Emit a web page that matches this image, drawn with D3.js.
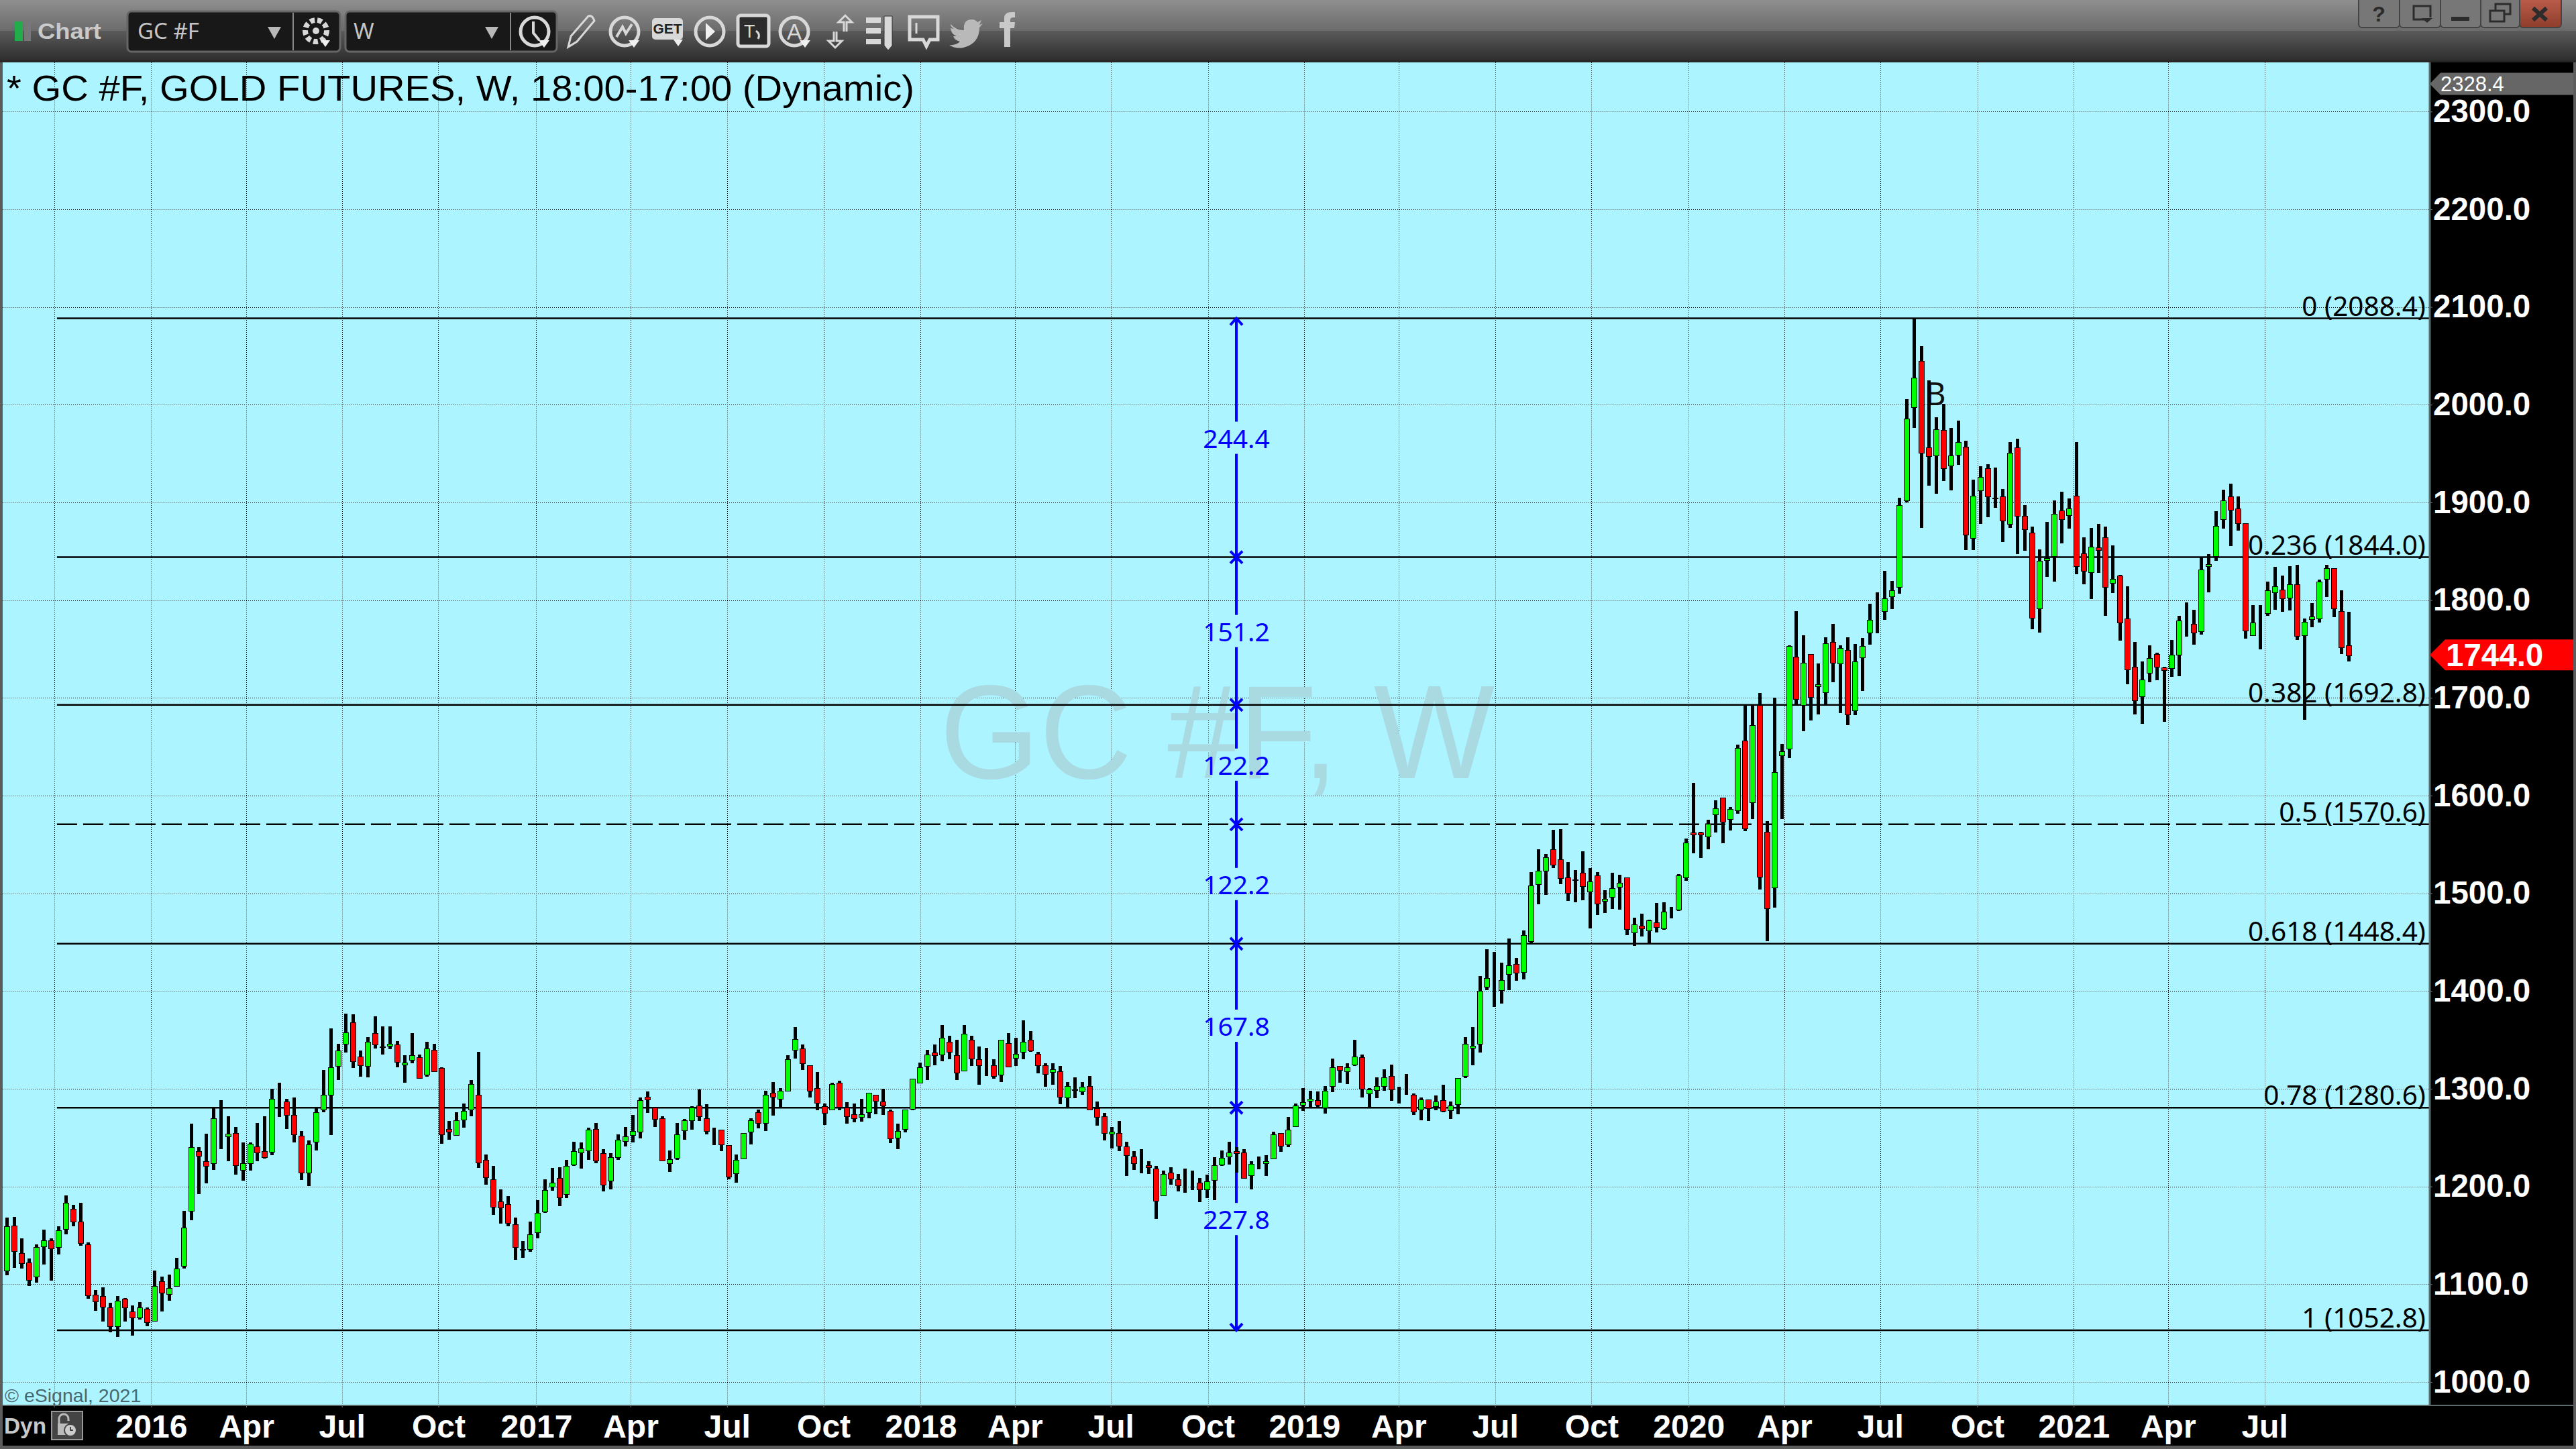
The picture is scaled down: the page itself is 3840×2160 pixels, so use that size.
<!DOCTYPE html>
<html>
<head>
<meta charset="utf-8">
<title>GC #F weekly</title>
<script src="https://cdnjs.cloudflare.com/ajax/libs/d3/7.8.5/d3.min.js"></script>
<style>
  html, body { margin: 0; padding: 0; background: #000; }
  svg { display: block; }
</style>
</head>
<body>
<svg id="chart" width="3840" height="2160"></svg>
<script>
// weekly candles
const opens = [
  1114,1160,1132,1122,1108,1139,1145,1138,1156,1177,1164,1141,1089,1088,1076,1057,1085,1072,1066,1075,
  1062,1103,1090,1098,1119,1175,1236,1226,1224,1260,1251,1255,1217,1224,1241,1236,1236,1294,1287,1273,
  1252,1214,1246,1279,1294,1323,1346,1368,1333,1323,1357,1342,1344,1345,1325,1329,1332,1314,1340,1321,
  1259,1253,1268,1279,1294,1227,1207,1185,1182,1161,1136,1136,1153,1174,1200,1209,1192,1222,1235,1237,
  1259,1234,1206,1230,1246,1253,1256,1292,1281,1270,1224,1229,1258,1268,1283,1270,1256,1258,1242,1213,
  1229,1256,1276,1265,1296,1290,1298,1340,1341,1324,1301,1282,1279,1306,1281,1274,1271,1276,1294,1287,
  1277,1250,1259,1279,1306,1323,1337,1335,1348,1334,1318,1350,1330,1324,1324,1314,1347,1332,1338,1350,
  1336,1324,1317,1318,1291,1298,1297,1303,1280,1272,1254,1255,1241,1231,1223,1222,1218,1191,1214,1207,
  1201,1201,1204,1197,1207,1222,1231,1236,1235,1211,1223,1224,1228,1255,1243,1262,1283,1288,1288,1281,
  1303,1323,1318,1325,1332,1295,1299,1303,1313,1297,1295,1294,1279,1289,1282,1288,1278,1284,1313,1342,
  1346,1404,1401,1401,1417,1428,1419,1451,1509,1523,1545,1535,1516,1513,1521,1502,1518,1492,1496,1507,
  1516,1460,1467,1462,1470,1464,1480,1483,1516,1562,1562,1558,1581,1598,1576,1585,1656,1593,1693,1563,
  1506,1641,1648,1742,1693,1745,1712,1706,1757,1735,1749,1687,1741,1767,1790,1789,1804,1813,1902,1998,
  2045,1956,1948,1974,1938,1949,1957,1864,1912,1935,1904,1906,1878,1956,1886,1869,1791,1841,1845,1892,
  1887,1907,1848,1829,1854,1864,1818,1825,1781,1732,1702,1726,1745,1731,1730,1744,1777,1776,1768,1835,
  1845,1883,1906,1894,1879,1764,1782,1787,1808,1811,1802,1816,1764,1780,1781,1822,1833,1789,1754
];
const highs = [
  1168,1169,1147,1126,1141,1156,1147,1159,1191,1181,1183,1143,1094,1097,1081,1088,1086,1078,1082,1076,
  1114,1108,1110,1127,1175,1264,1240,1254,1280,1288,1272,1261,1245,1245,1265,1272,1300,1306,1290,1291,
  1257,1247,1280,1319,1362,1346,1377,1376,1339,1353,1374,1364,1364,1349,1334,1357,1335,1348,1346,1322,
  1267,1276,1285,1309,1338,1233,1221,1197,1190,1168,1144,1164,1186,1207,1219,1220,1227,1246,1245,1260,
  1265,1238,1234,1253,1261,1273,1291,1297,1281,1272,1237,1265,1269,1282,1299,1284,1260,1258,1242,1233,
  1255,1270,1279,1298,1307,1301,1334,1363,1345,1324,1317,1285,1306,1308,1286,1285,1290,1296,1294,1300,
  1279,1264,1279,1310,1327,1340,1345,1365,1354,1350,1365,1354,1343,1342,1330,1350,1357,1352,1370,1359,
  1338,1326,1326,1323,1307,1312,1307,1313,1287,1275,1261,1267,1246,1236,1238,1226,1221,1216,1220,1213,
  1218,1216,1209,1212,1230,1237,1246,1240,1238,1226,1231,1232,1256,1255,1271,1285,1301,1298,1297,1303,
  1331,1323,1326,1350,1335,1301,1312,1320,1325,1302,1315,1295,1291,1289,1293,1304,1287,1311,1353,1363,
  1415,1443,1440,1429,1454,1434,1462,1522,1545,1540,1565,1566,1532,1524,1543,1526,1522,1503,1521,1519,
  1516,1475,1479,1473,1490,1491,1486,1520,1556,1613,1563,1575,1595,1598,1588,1652,1693,1693,1705,1574,
  1700,1653,1754,1789,1764,1745,1735,1762,1776,1754,1762,1755,1761,1796,1808,1830,1820,1905,2006,2088,
  2060,2025,1987,2001,1976,1984,1963,1923,1937,1939,1936,1914,1962,1965,1897,1875,1852,1880,1902,1911,
  1904,1962,1864,1874,1878,1875,1856,1826,1814,1757,1737,1754,1746,1732,1759,1784,1798,1790,1844,1847,
  1891,1913,1919,1906,1879,1795,1795,1819,1834,1825,1835,1836,1781,1797,1821,1836,1833,1810,1788
];
const lows = [
  1109,1117,1116,1098,1102,1120,1104,1130,1151,1159,1139,1085,1073,1062,1051,1046,1062,1047,1064,1057,
  1062,1072,1083,1098,1116,1165,1192,1203,1217,1238,1226,1212,1206,1216,1226,1229,1232,1271,1259,1245,
  1207,1200,1237,1276,1253,1309,1337,1321,1312,1312,1341,1335,1341,1322,1306,1326,1311,1312,1317,1244,
  1248,1252,1260,1272,1219,1202,1171,1162,1159,1125,1127,1133,1147,1173,1196,1180,1188,1221,1218,1227,
  1224,1195,1197,1227,1241,1245,1249,1275,1261,1226,1215,1227,1248,1258,1267,1253,1242,1236,1207,1204,
  1228,1243,1260,1257,1273,1281,1298,1331,1319,1291,1278,1263,1279,1278,1264,1266,1267,1270,1274,1273,
  1245,1238,1256,1278,1306,1309,1324,1328,1330,1309,1318,1323,1304,1313,1310,1307,1322,1323,1330,1338,
  1316,1302,1304,1284,1281,1291,1294,1279,1262,1247,1239,1236,1211,1217,1213,1213,1167,1191,1202,1195,
  1193,1196,1184,1188,1186,1221,1223,1214,1208,1197,1218,1211,1228,1236,1240,1261,1278,1281,1281,1275,
  1297,1306,1305,1323,1291,1281,1291,1298,1288,1285,1294,1273,1268,1267,1278,1276,1269,1274,1311,1324,
  1337,1401,1384,1387,1401,1411,1412,1449,1489,1498,1526,1510,1492,1491,1493,1464,1478,1480,1484,1483,
  1457,1446,1456,1448,1460,1463,1474,1482,1513,1541,1536,1545,1562,1551,1564,1581,1564,1576,1504,1451,
  1485,1576,1639,1692,1666,1677,1683,1693,1716,1685,1672,1682,1707,1754,1766,1780,1791,1807,1900,1976,
  1874,1917,1909,1922,1912,1939,1851,1851,1878,1885,1895,1860,1874,1847,1850,1770,1767,1824,1819,1858,
  1873,1827,1816,1801,1828,1784,1807,1759,1714,1683,1673,1716,1718,1676,1721,1722,1763,1754,1765,1808,
  1840,1873,1855,1871,1761,1764,1750,1784,1790,1788,1790,1759,1677,1772,1777,1803,1783,1745,1737
];
const closes = [
  1159,1134,1122,1104,1138,1145,1137,1155,1183,1164,1142,1089,1082,1077,1057,1083,1076,1066,1076,1061,
  1098,1091,1096,1116,1158,1240,1231,1221,1270,1260,1254,1222,1224,1244,1235,1230,1290,1294,1273,1253,
  1214,1243,1276,1294,1322,1339,1358,1328,1324,1348,1345,1343,1346,1327,1327,1334,1311,1341,1318,1253,
  1256,1268,1277,1305,1225,1209,1179,1179,1163,1138,1135,1151,1173,1196,1204,1189,1221,1236,1239,1258,
  1227,1202,1230,1248,1251,1257,1288,1289,1269,1227,1228,1253,1268,1281,1272,1257,1256,1243,1210,1227,
  1255,1268,1265,1294,1292,1298,1330,1351,1326,1298,1286,1275,1305,1281,1272,1270,1274,1296,1288,1283,
  1249,1257,1279,1310,1322,1335,1334,1352,1338,1316,1356,1331,1324,1324,1313,1350,1323,1336,1348,1339,
  1324,1315,1320,1292,1303,1299,1302,1279,1271,1255,1256,1242,1232,1224,1223,1220,1185,1213,1208,1201,
  1201,1201,1197,1205,1222,1229,1235,1234,1209,1223,1223,1226,1253,1242,1258,1283,1286,1290,1283,1298,
  1322,1319,1322,1333,1300,1299,1303,1312,1299,1297,1295,1277,1289,1280,1287,1277,1283,1311,1346,1344,
  1400,1413,1401,1411,1426,1419,1457,1508,1523,1537,1529,1516,1500,1514,1507,1512,1489,1494,1505,1511,
  1463,1468,1464,1472,1465,1481,1480,1518,1552,1560,1560,1571,1587,1573,1586,1649,1566,1672,1517,1485,
  1624,1645,1753,1699,1736,1701,1714,1756,1736,1751,1683,1737,1753,1780,1790,1802,1810,1897,1986,2028,
  1951,1947,1975,1935,1948,1962,1867,1907,1926,1906,1905,1881,1951,1886,1872,1782,1840,1843,1888,1883,
  1894,1835,1830,1855,1851,1813,1822,1777,1729,1698,1719,1741,1732,1728,1744,1779,1777,1767,1831,1837,
  1876,1902,1892,1879,1769,1777,1782,1810,1814,1802,1816,1763,1778,1783,1819,1833,1792,1752,1744
];

// time axis: week number of each label
const tickWeeks = [6.4,19.6,32.5,45.5,58.6,71.9,84.7,97.8,110.9,124.1,136.9,149.9,163.1,176.2,189,202.1,215.2,228.4,241.4,254.4,267.6,280.7,293.5,306.6];
const tickLabels = ["","2016","Apr","Jul","Oct","2017","Apr","Jul","Oct","2018","Apr","Jul","Oct","2019","Apr","Jul","Oct","2020","Apr","Jul","Oct","2021","Apr","Jul"];
const priceTicks = [1000,1100,1200,1300,1400,1500,1600,1700,1800,1900,2000,2100,2200,2300];

// fibonacci study
const fibRatios = ["0","0.236","0.382","0.5","0.618","0.78","1"];
const fibPrices = [2088.4,1844.0,1692.8,1570.6,1448.4,1280.6,1052.8];
const fibGaps = ["244.4","151.2","122.2","122.2","167.8","227.8"];
const fibStartWeek = 6.8;
const fibRulerWeek = 167;

const lastPrice = 1744.0;
const scaleTop = 2328.4;

const bg = "#acf4ff";
const upColor = "#00ff00";
const downColor = "#ff0000";
const arial = "'Liberation Sans', Arial, sans-serif";
const tahoma = "'Noto Sans', sans-serif";

const plotLeft = 4, plotRight = 3621, plotTop = 93, plotBottom = 2095, panelRight = 3836;

const svg = d3.select("#chart");
const x = d3.scaleLinear().domain([0, 318]).range([10.3, 3500.7]);
const y = d3.scaleLinear().domain([1000, 2300]).range([2060, 166.3]);

drawChrome(svg);
drawPlot(svg);
drawAxes(svg);
drawToolbar(svg);

function drawChrome(svg) {
    let defs = svg.append("defs");
    let g1 = defs.append("linearGradient").attr("id", "barTop").attr("x2", 0).attr("y2", 1);
    g1.append("stop").attr("offset", 0).attr("stop-color", "#8f8f8f");
    g1.append("stop").attr("offset", 1).attr("stop-color", "#6b6b6b");
    let g2 = defs.append("linearGradient").attr("id", "barLow").attr("x2", 0).attr("y2", 1);
    g2.append("stop").attr("offset", 0).attr("stop-color", "#5a5a5a");
    g2.append("stop").attr("offset", 1).attr("stop-color", "#2e2e2e");
    let g3 = defs.append("linearGradient").attr("id", "closeBtn").attr("x2", 0).attr("y2", 1);
    g3.append("stop").attr("offset", 0).attr("stop-color", "#c0604e");
    g3.append("stop").attr("offset", 1).attr("stop-color", "#8e3d2c");

    svg.append("rect").attr("width", 3840).attr("height", 2160).attr("fill", "#5c5c5c");
    svg.append("rect").attr("width", 3840).attr("height", 46).attr("fill", "url(#barTop)");
    svg.append("rect").attr("y", 46).attr("width", 3840).attr("height", 44).attr("fill", "url(#barLow)");
    svg.append("rect").attr("y", 90).attr("width", 3840).attr("height", 3).attr("fill", "#262626");
    svg.append("rect").attr("x", plotLeft).attr("y", plotTop)
        .attr("width", plotRight - plotLeft).attr("height", plotBottom - plotTop).attr("fill", bg);
    svg.append("rect").attr("x", plotRight).attr("y", plotTop)
        .attr("width", panelRight - plotRight).attr("height", plotBottom - plotTop).attr("fill", "#000");
    svg.append("rect").attr("x", plotLeft).attr("y", plotBottom)
        .attr("width", panelRight - plotLeft).attr("height", 60).attr("fill", "#000");
}

function drawPlot(svg) {
    // grid
    let grid = svg.append("g").attr("stroke", "#000").attr("stroke-width", 1)
        .attr("stroke-dasharray", "1,2").attr("shape-rendering", "crispEdges");
    grid.selectAll(".gy").data(priceTicks).enter().append("line")
        .attr("x1", plotLeft).attr("x2", plotRight)
        .attr("y1", d => Math.round(y(d)) + 0.5).attr("y2", d => Math.round(y(d)) + 0.5);
    grid.selectAll(".gx").data(tickWeeks).enter().append("line")
        .attr("y1", plotTop).attr("y2", plotBottom)
        .attr("x1", d => Math.round(x(d)) + 0.5).attr("x2", d => Math.round(x(d)) + 0.5);

    // watermark
    svg.append("text").attr("x", 1401).attr("y", 1160)
        .attr("textLength", 827).attr("lengthAdjust", "spacingAndGlyphs")
        .style("font-family", arial).style("font-size", "198px").style("fill", "#a9d9e1")
        .text("GC #F, W");

    // copyright
    svg.append("text").attr("x", 7).attr("y", 2090)
        .style("font-family", arial).style("font-size", "28.5px").style("fill", "#47686e")
        .text("\u00a9 eSignal, 2021");

    svg.append("text").attr("x", 10).attr("y", 150)
        .attr("textLength", 1353).attr("lengthAdjust", "spacingAndGlyphs")
        .style("font-family", arial).style("font-size", "53px").style("fill", "#000")
        .text("* GC #F, GOLD FUTURES, W, 18:00-17:00 (Dynamic)");

    drawFib(svg);

    svg.append("text").attr("x", 2870).attr("y", 604)
        .style("font-family", tahoma).style("font-size", "47px").style("fill", "#111")
        .text("B");

    drawCandles(svg);
}

function drawFib(svg) {
    let left = x(fibStartWeek);
    let rx = Math.round(x(fibRulerWeek));

    // horizontal levels, 0.5 is dashed
    svg.selectAll(".fib").data(fibPrices).enter().append("line")
        .attr("x1", left).attr("x2", plotRight)
        .attr("y1", d => y(d)).attr("y2", d => y(d))
        .attr("stroke", "#000").attr("stroke-width", 2.5)
        .attr("stroke-dasharray", (d, i) => fibRatios[i] === "0.5" ? "30,9" : null);

    svg.selectAll(".fibLabel").data(fibPrices).enter().append("text")
        .attr("x", 3616).attr("y", d => y(d) - 4)
        .attr("text-anchor", "end")
        .style("font-family", tahoma).style("font-size", "40.5px").style("fill", "#000")
        .text((d, i) => fibRatios[i] + " (" + d.toFixed(1) + ")");

    // blue ruler, broken around its labels
    let blue = svg.append("g").attr("stroke", "#0000ff").attr("stroke-width", 4).attr("fill", "none");
    fibGaps.forEach(function (label, i) {
        let y1 = y(fibPrices[i]);
        let y2 = y(fibPrices[i + 1]);
        let mid = y((fibPrices[i] + fibPrices[i + 1]) / 2);
        blue.append("line").attr("x1", rx).attr("x2", rx).attr("y1", y1).attr("y2", mid - 24);
        blue.append("line").attr("x1", rx).attr("x2", rx).attr("y1", mid + 24).attr("y2", y2);
        svg.append("text").attr("x", rx).attr("y", mid + 15)
            .attr("text-anchor", "middle")
            .style("font-family", tahoma).style("font-size", "39px").style("fill", "#0000ff")
            .text(label);
    });
    // crosses on inner levels, arrows on both ends
    fibPrices.forEach(function (p, i) {
        let py = y(p);
        if (i === 0) {
            blue.append("path").attr("d", `M${rx - 9},${py + 10}L${rx},${py}L${rx + 9},${py + 10}`);
        } else if (i === fibPrices.length - 1) {
            blue.append("path").attr("d", `M${rx - 9},${py - 10}L${rx},${py}L${rx + 9},${py - 10}`);
        } else {
            blue.append("path").attr("d", `M${rx - 9},${py - 9}L${rx + 9},${py + 9}M${rx - 9},${py + 9}L${rx + 9},${py - 9}`);
        }
    });
}

function drawCandles(svg) {
    let g = svg.append("g").attr("shape-rendering", "crispEdges");
    let weeks = d3.range(opens.length);
    g.selectAll(".wick").data(weeks).enter().append("rect")
        .attr("x", i => Math.round(x(i)) - 2)
        .attr("width", 5)
        .attr("y", i => Math.round(y(highs[i])))
        .attr("height", i => Math.round(y(lows[i]) - y(highs[i])))
        .attr("fill", "#000");
    g.selectAll(".body").data(weeks).enter().append("rect")
        .attr("x", i => Math.round(x(i)) - 3.5)
        .attr("width", 8)
        .attr("y", i => Math.round(y(Math.max(opens[i], closes[i]))) + 0.5)
        .attr("height", i => Math.round(Math.abs(y(opens[i]) - y(closes[i]))))
        .attr("fill", i => closes[i] >= opens[i] ? upColor : downColor)
        .attr("stroke", "#000")
        .attr("stroke-width", 1);
}

function drawAxes(svg) {
    // price axis
    let yAxis = svg.append("g").attr("transform", "translate(" + plotRight + ",0)")
        .call(d3.axisRight(y).tickValues(priceTicks).tickSize(5).tickPadding(1).tickFormat(d => d.toFixed(1)));
    yAxis.select(".domain").remove();
    yAxis.selectAll("line").attr("stroke", "#777");
    yAxis.selectAll("text")
        .style("font-family", arial).style("font-size", "47.5px").style("font-weight", "bold").style("fill", "#fff");

    // time axis
    let xAxis = svg.append("g").attr("transform", "translate(0," + plotBottom + ")")
        .call(d3.axisBottom(x).tickValues(tickWeeks).tickSize(3).tickPadding(11)
            .tickFormat((d, i) => tickLabels[i]));
    xAxis.select(".domain").remove();
    xAxis.selectAll("line").attr("stroke", "#777");
    xAxis.selectAll("text")
        .style("font-family", arial).style("font-size", "48px").style("font-weight", "bold").style("fill", "#fff");

    svg.append("line").attr("x1", plotRight + 1).attr("x2", plotRight + 1)
        .attr("y1", plotTop).attr("y2", plotBottom)
        .attr("stroke", "#5c6a6c").attr("stroke-width", 3);
    svg.append("line").attr("x1", plotLeft).attr("x2", panelRight)
        .attr("y1", plotBottom).attr("y2", plotBottom)
        .attr("stroke", "#5c6a6c").attr("stroke-width", 2);

    // price flags
    priceFlag(svg, y(scaleTop), 33, 16, "#666", scaleTop.toFixed(1), "31px", "normal", 3638);
    priceFlag(svg, y(lastPrice), 46, 23, downColor, lastPrice.toFixed(1), "47.5px", "bold", 3646);

    // Dyn + lock button
    svg.append("text").attr("x", 6).attr("y", 2137)
        .attr("textLength", 63).attr("lengthAdjust", "spacingAndGlyphs")
        .style("font-family", arial).style("font-size", "34px").style("font-weight", "bold").style("fill", "#c8c8c8")
        .text("Dyn");
    svg.append("rect").attr("x", 77).attr("y", 2104).attr("width", 46).attr("height", 42)
        .attr("fill", "#444").attr("stroke", "#999").attr("stroke-width", 2);
    svg.append("path").attr("d", "M88,2122v-7a7,7 0 0 1 14,0v3").attr("fill", "none")
        .attr("stroke", "#bbb").attr("stroke-width", 3);
    svg.append("rect").attr("x", 86).attr("y", 2122).attr("width", 16).attr("height", 17).attr("fill", "#bbb");
    svg.append("circle").attr("cx", 105).attr("cy", 2132).attr("r", 9).attr("fill", "#ccc").attr("stroke", "#444").attr("stroke-width", 2);
    svg.append("path").attr("d", "M105,2127v5h4").attr("fill", "none").attr("stroke", "#444").attr("stroke-width", 2);
}

function priceFlag(svg, cy, h, tip, fill, label, size, weight, textX) {
    svg.append("path")
        .attr("d", `M${plotRight + 1},${cy}L${plotRight + 1 + tip},${cy - h / 2}H${panelRight}V${cy + h / 2}H${plotRight + 1 + tip}Z`)
        .attr("fill", fill);
    svg.append("text").attr("x", textX).attr("y", cy)
        .attr("dy", "0.35em")
        .style("font-family", arial).style("font-size", size).style("font-weight", weight).style("fill", "#fff")
        .text(label);
}

function drawToolbar(svg) {
    let ink = "#d8d8d8";
    let tb = svg.append("g");

    tb.append("rect").attr("x", 22).attr("y", 32).attr("width", 12).attr("height", 29).attr("fill", "#1fae4a");
    tb.append("rect").attr("x", 36).attr("y", 32).attr("width", 10).attr("height", 29).attr("fill", "#777");
    tb.append("text").attr("x", 56).attr("y", 58)
        .attr("textLength", 95).attr("lengthAdjust", "spacingAndGlyphs")
        .style("font-family", arial).style("font-size", "34px").style("font-weight", "bold").style("fill", "#c9c9c9")
        .text("Chart");

    // the two selector boxes
    let boxes = [[190, 507, 437, "GC #F", 205], [515, 830, 761, "W", 527]];
    boxes.forEach(function (b) {
        tb.append("rect").attr("x", b[0]).attr("y", 17).attr("width", b[1] - b[0]).attr("height", 60)
            .attr("rx", 6).attr("fill", "#181818").attr("stroke", "#666").attr("stroke-width", 3);
        tb.append("line").attr("x1", b[2]).attr("x2", b[2]).attr("y1", 19).attr("y2", 75)
            .attr("stroke", "#888").attr("stroke-width", 2);
        tb.append("text").attr("x", b[4]).attr("y", 58)
            .style("font-family", tahoma).style("font-size", "33px").style("fill", "#c4c4c4")
            .text(b[3]);
        tb.append("path").attr("d", `M${b[2] - 38},40h20l-10,18Z`).attr("fill", "#b8b8b8");
    });

    function ring(cx) {
        return tb.append("circle").attr("cx", cx).attr("cy", 47).attr("r", 21)
            .attr("fill", "none").attr("stroke", ink).attr("stroke-width", 5);
    }
    function stroke(d, w) {
        return tb.append("path").attr("d", d).attr("fill", "none").attr("stroke", ink).attr("stroke-width", w || 4);
    }
    function solid(d) {
        return tb.append("path").attr("d", d).attr("fill", "#f0f0f0");
    }

    // gear
    tb.append("circle").attr("cx", 471).attr("cy", 46).attr("r", 16).attr("fill", "none")
        .attr("stroke", ink).attr("stroke-width", 8).attr("stroke-dasharray", "7,4");
    tb.append("circle").attr("cx", 471).attr("cy", 46).attr("r", 5).attr("fill", ink);
    solid("M478,60h14l-7,10Z");
    // clock
    ring(797);
    stroke("M795,32v17l9,11", 4);
    solid("M803,60h16l-8,11Z");
    // pencil
    stroke("M847,70l4,-16l26,-30q6,-2 9,7l-26,31Z", 3);
    // chart ring
    ring(931);
    stroke("M919,55l9,-15l5,10l9,-14", 4);
    solid("M937,60h16l-8,11Z");
    // GET
    tb.append("rect").attr("x", 972).attr("y", 27).attr("width", 46).attr("height", 32).attr("rx", 5).attr("fill", ink);
    tb.append("text").attr("x", 995).attr("y", 50).attr("text-anchor", "middle")
        .style("font-family", arial).style("font-size", "21px").style("font-weight", "bold").style("fill", "#222")
        .text("GET");
    solid("M1004,59h14l-7,10Z");
    // play
    ring(1058);
    solid("M1052,34l14,13l-14,13Z");
    // text box
    tb.append("rect").attr("x", 1100).attr("y", 23).attr("width", 46).attr("height", 46).attr("rx", 4)
        .attr("fill", "#2c2c2c").attr("stroke", ink).attr("stroke-width", 5);
    tb.append("text").attr("x", 1109).attr("y", 56)
        .style("font-family", arial).style("font-size", "27px").style("fill", ink)
        .text("T");
    stroke("M1127,46q7,5 3,12", 3);
    // A ring
    ring(1184);
    tb.append("text").attr("x", 1184).attr("y", 59).attr("text-anchor", "middle")
        .style("font-family", arial).style("font-size", "33px").style("fill", ink)
        .text("A");
    solid("M1192,60h16l-8,11Z");
    // up/down arrows
    stroke("M1258,47v-14h-8l10,-10l10,10h-8v14", 3);
    stroke("M1243,47v14h-8l10,10l10,-10h-8v-14", 3);
    // list with pencil
    [30, 46, 62].forEach(function (ly) {
        tb.append("rect").attr("x", 1291).attr("y", ly - 4).attr("width", 22).attr("height", 8).attr("fill", ink);
    });
    tb.append("path").attr("d", "M1318,24h12v44l-6,7l-6,-7Z").attr("fill", ink).attr("stroke", "#333");
    // speech bubble
    stroke("M1356,25h42v34h-12l-5,10l-5,-10h-20Z", 5);
    stroke("M1366,34v16", 3);
    // twitter
    tb.append("path").attr("d", "M1417,36q10,10 20,9q-2,-16 12,-16q5,0 8,4l6,-3l-3,7l5,-2l-5,6q0,24 -24,30q-12,2 -21,-4q10,1 16,-5q-8,-2 -10,-8h5q-8,-3 -9,-12l5,1q-6,-4 -5,-7Z")
        .attr("fill", "#b9b9b9");
    // facebook
    tb.append("path").attr("d", "M1497,70v-28h-7v-9h7v-6q0,-9 12,-9h4v8h-3q-4,0 -4,4v3h7l-1,9h-6v28Z").attr("fill", "#c9c9c9");

    // window buttons
    let btnX = [3516, 3577, 3638, 3698, 3756, 3818];
    for (let i = 0; i < 5; i++) {
        tb.append("rect").attr("x", btnX[i]).attr("y", -6).attr("width", btnX[i + 1] - btnX[i]).attr("height", 47)
            .attr("rx", 5)
            .attr("fill", i === 4 ? "url(#closeBtn)" : "#777").attr("stroke", "#444").attr("stroke-width", 2);
    }
    tb.append("text").attr("x", 3546).attr("y", 32).attr("text-anchor", "middle")
        .style("font-family", arial).style("font-size", "32px").style("font-weight", "bold").style("fill", "#2a2a2a")
        .text("?");
    let dark = "#2c2c2c";
    tb.append("path").attr("d", "M3620,29h-22v-20h25v17").attr("fill", "none").attr("stroke", dark).attr("stroke-width", 3);
    tb.append("path").attr("d", "M3610,27h16l-8,7Z").attr("fill", dark);
    tb.append("rect").attr("x", 3654).attr("y", 25).attr("width", 27).attr("height", 6).attr("fill", dark);
    tb.append("rect").attr("x", 3712).attr("y", 16).attr("width", 21).attr("height", 16).attr("fill", "none").attr("stroke", dark).attr("stroke-width", 3);
    tb.append("path").attr("d", "M3720,16v-10h22v15h-9").attr("fill", "none").attr("stroke", dark).attr("stroke-width", 3);
    tb.append("path").attr("d", "M3776,12l20,18M3796,12l-20,18").attr("stroke", dark).attr("stroke-width", 6);
}
</script>
</body>
</html>
